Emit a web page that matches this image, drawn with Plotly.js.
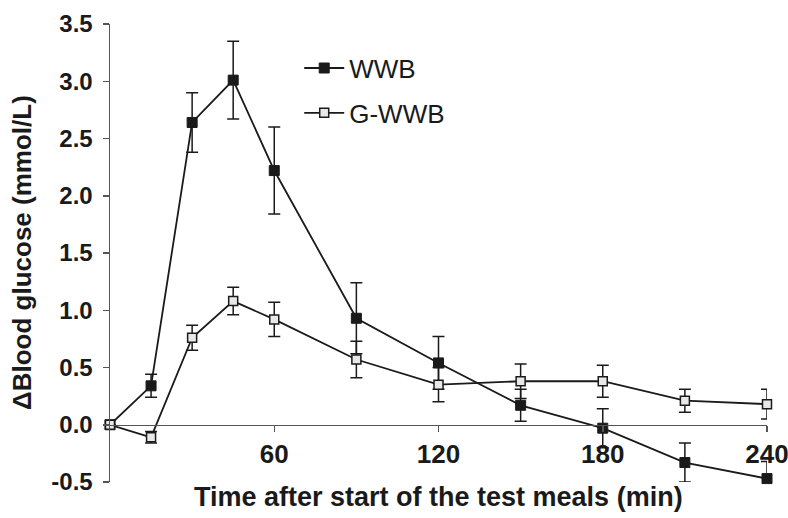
<!DOCTYPE html>
<html>
<head>
<meta charset="utf-8">
<script src="https://cdn.plot.ly/plotly-3.0.1.min.js"></script>
<style>body{margin:0;background:#fff;} #chart{width:788px;height:518px;}</style>
</head>
<body>
<div id="chart"></div>
<script>
const times = [0, 15, 30, 45, 60, 90, 120, 150, 180, 210, 240];
const wwbMean = [0, 0.34, 2.64, 3.01, 2.22, 0.93, 0.54, 0.17, -0.03, -0.33, -0.47];
const wwbErr  = [0, 0.10, 0.26, 0.34, 0.38, 0.31, 0.23, 0.14, 0.17, 0.17, 0.15];
const gwwbMean = [0, -0.11, 0.76, 1.08, 0.92, 0.57, 0.35, 0.38, 0.38, 0.21, 0.18];
const gwwbErr  = [0, 0.05, 0.11, 0.12, 0.15, 0.16, 0.15, 0.15, 0.14, 0.10, 0.13];
const xTicks = [60, 120, 180, 240];
const yTicks = [-0.5, 0, 0.5, 1.0, 1.5, 2.0, 2.5, 3.0, 3.5];
const yTickText = ['-0.5', '0.0', '0.5', '1.0', '1.5', '2.0', '2.5', '3.0', '3.5'];

const ink = '#1a1a1a';
const FONT = 'Liberation Sans, Arial, sans-serif';

const traces = [
  {
    x: times, y: wwbMean, name: 'WWB', type: 'scatter', mode: 'lines+markers',
    legendgroup: 'a',
    line: {color: ink, width: 1.8},
    marker: {symbol: 'square', size: 10, color: ink, line: {color: ink, width: 1}},
    error_y: {type: 'data', array: wwbErr, visible: true, color: ink, thickness: 1.5, width: 6},
    cliponaxis: false
  },
  {
    x: times, y: gwwbMean, name: 'G-WWB', type: 'scatter', mode: 'lines+markers',
    legendgroup: 'b',
    line: {color: ink, width: 1.8},
    marker: {symbol: 'square', size: 9, color: '#e8e8e8', line: {color: ink, width: 1.5}},
    error_y: {type: 'data', array: gwwbErr, visible: true, color: ink, thickness: 1.5, width: 6},
    cliponaxis: false
  }
];

const layout = {
  width: 788, height: 518,
  margin: {l: 110, r: 21, t: 24, b: 36},
  paper_bgcolor: '#fff', plot_bgcolor: '#fff',
  font: {family: FONT, color: ink, size: 22},
  showlegend: true,
  legend: {
    x: 0.288, y: 0.955, xanchor: 'left', yanchor: 'top',
    font: {family: FONT, size: 26, color: ink},
    bgcolor: 'rgba(0,0,0,0)', borderwidth: 0,
    traceorder: 'grouped', tracegroupgap: 8, itemwidth: 40
  },
  xaxis: {
    range: [0, 240], anchor: 'free', position: 0.125,
    tickvals: xTicks, ticktext: xTicks.map(String),
    ticks: 'outside', ticklen: 6, tickwidth: 1.5, tickcolor: '#555',
    ticklabeloverflow: 'allow',
    showline: true, linecolor: '#555', linewidth: 1.5,
    showgrid: false, zeroline: false,
    tickfont: {family: FONT, size: 26, weight: 'bold', color: ink}
  },
  yaxis: {
    range: [-0.5, 3.5],
    tickvals: yTicks, ticktext: yTickText,
    ticks: 'outside', ticklen: 6, tickwidth: 1.5, tickcolor: '#555',
    ticklabelstandoff: 5,
    showline: true, linecolor: '#555', linewidth: 1.5,
    showgrid: false, zeroline: false,
    tickfont: {family: FONT, size: 24, weight: 'bold', color: ink}
  },
  annotations: [
    {
      text: 'Time after start of the test meals (min)',
      xref: 'paper', yref: 'paper', x: 0.5, y: 0, yshift: -15,
      xanchor: 'center', yanchor: 'middle', showarrow: false,
      font: {family: FONT, size: 27, weight: 'bold', color: ink}
    },
    {
      text: '\u0394Blood glucose (mmol/L)',
      xref: 'paper', yref: 'paper', x: 0, y: 0.5, xshift: -88,
      xanchor: 'center', yanchor: 'middle', textangle: -90, showarrow: false,
      font: {family: FONT, size: 26, weight: 'bold', color: ink}
    }
  ]
};

Plotly.newPlot('chart', traces, layout, {displayModeBar: false, staticPlot: true});
</script>
</body>
</html>
